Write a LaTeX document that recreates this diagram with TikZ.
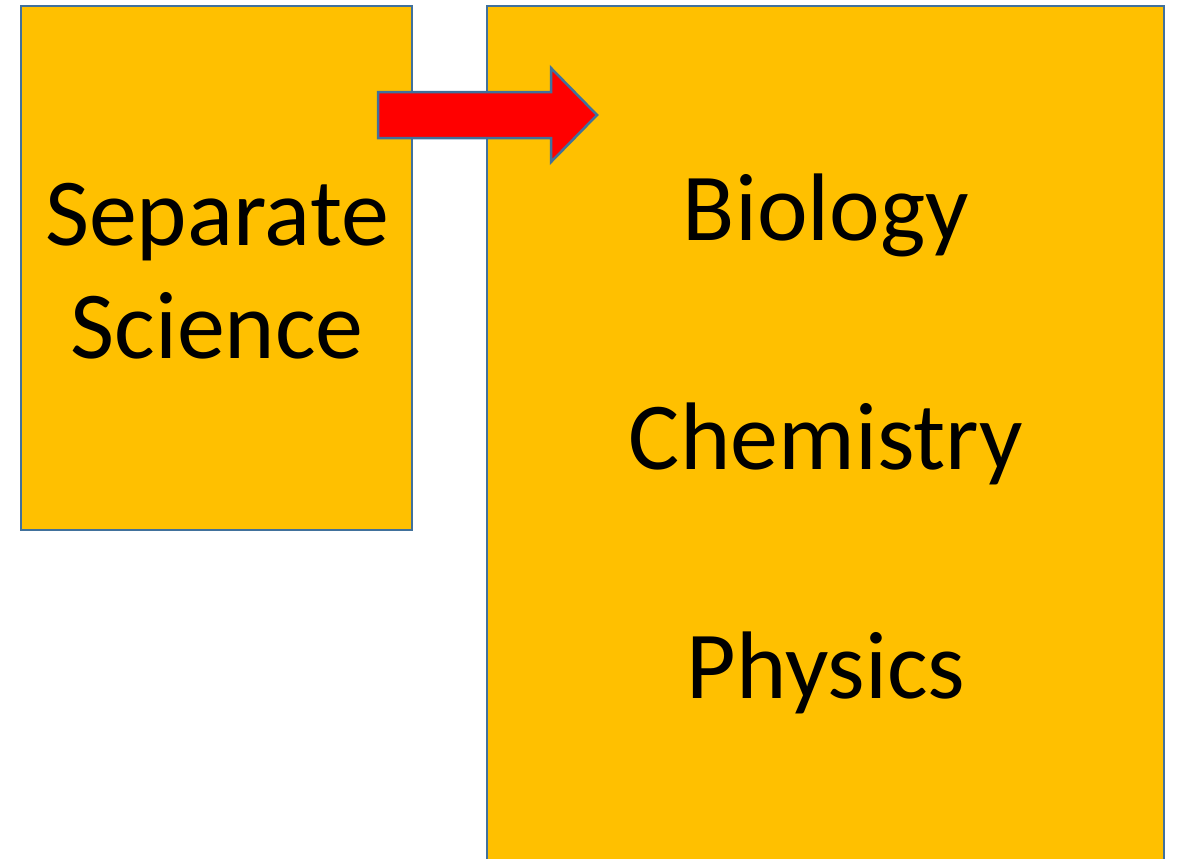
\documentclass[tikz,border=0pt]{standalone}
\usepackage{fontspec}
\setmainfont{Carlito}
\definecolor{boxfill}{HTML}{FFC000}
\definecolor{boxline}{HTML}{41719C}
\begin{document}
\begin{tikzpicture}[x=1pt,y=-1pt,
  panel/.style={draw=boxline,fill=boxfill,line width=2.5pt},
  label/.style={anchor=base,inner sep=0pt,font=\fontsize{96}{110}\selectfont}]
\useasboundingbox (0,0) rectangle (1178,859);
\clip (0,0) rectangle (1178,859);
\draw[panel] (21,6) rectangle (412,530);
\coordinate (lbox) at (216,268);
\draw[panel] (487,6) rectangle (1164,880);
\coordinate (rbox) at (826,440);
\draw[panel,fill=red,line join=miter] (378,92) -- (551,92) -- (551,68) -- (597,115) -- (551,162) -- (551,138) -- (378,138) -- cycle;
\node[label] (sep) at (217,245) {Separate};
\node[label] (sci) at (217,358) {Science};
\node[label] (bio) at (826,240) {Biology};
\node[label] (chem) at (826,469) {Chemistry};
\node[label] (phy) at (826,698) {Physics};
\end{tikzpicture}
\end{document}
